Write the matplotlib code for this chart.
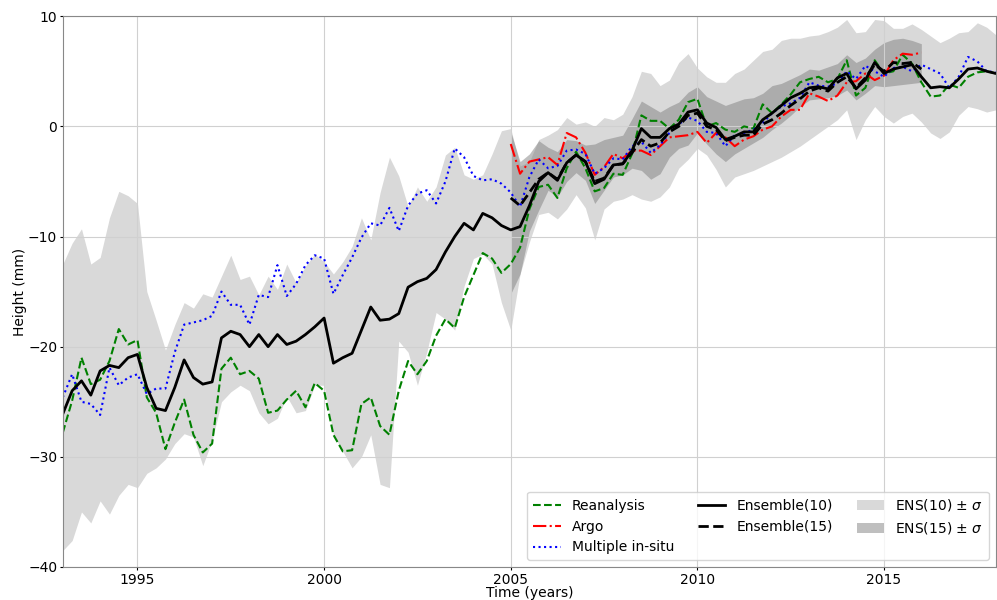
import numpy as np
import matplotlib
matplotlib.use('Agg')
import matplotlib.pyplot as plt

# quarterly time axis
t_all = np.arange(1993.0, 2018.01, 0.25)
t_argo = np.arange(2005.0, 2016.01, 0.25)

ens10 = [-26.1, -24.0, -23.1, -24.4, -22.2, -21.7, -21.9, -21.0, -20.7, -23.7,
         -25.6, -25.8, -23.7, -21.2, -22.8, -23.4, -23.2, -19.2, -18.6, -18.9,
         -20.0, -18.9, -20.0, -18.9, -19.8, -19.5, -18.9, -18.2, -17.4, -21.5,
         -21.0, -20.6, -18.5, -16.4, -17.6, -17.5, -17.0, -14.6, -14.1, -13.8,
         -13.0, -11.4, -10.0, -8.8, -9.4, -7.9, -8.3, -9.0, -9.4, -9.1,
         -7.2, -5.0, -4.2, -4.9, -3.3, -2.6, -3.2, -5.2, -4.8, -3.5,
         -3.4, -2.2, -0.2, -1.0, -1.0, -0.2, 0.2, 1.3, 1.5, 0.3,
         -0.1, -1.2, -0.9, -0.5, -0.5, 0.6, 1.2, 1.9, 2.6, 3.0,
         3.5, 3.6, 3.4, 4.4, 4.8, 3.4, 4.2, 5.8, 4.8, 5.2,
         5.4, 5.6, 4.5, 3.5, 3.6, 3.5, 4.3, 5.2, 5.3, 5.0, 4.8]

reanalysis = [-27.8, -24.9, -21.0, -23.4, -23.0, -21.3, -18.4, -19.8, -19.4, -24.6,
              -26.0, -29.3, -26.9, -24.8, -28.0, -29.6, -28.8, -22.0, -21.0, -22.5,
              -22.2, -22.9, -26.0, -25.8, -24.8, -24.0, -25.5, -23.3, -24.0, -28.0,
              -29.5, -29.4, -25.2, -24.6, -27.2, -28.0, -24.0, -21.3, -22.5, -21.3,
              -19.0, -17.5, -18.3, -15.5, -13.5, -11.5, -12.0, -13.3, -12.5, -11.0,
              -7.5, -5.5, -5.3, -6.5, -3.8, -2.3, -3.8, -5.9, -5.6, -4.3,
              -4.4, -2.5, 1.0, 0.5, 0.5, -0.2, 0.6, 2.2, 2.5, 0.0,
              0.3, -0.3, -0.5, 0.0, -0.2, 2.0, 1.2, 2.0, 2.9, 4.0,
              4.3, 4.5, 4.0, 4.3, 6.0, 2.8, 3.5, 6.0, 4.8, 5.0,
              6.5, 5.7, 4.0, 2.7, 2.8, 3.8, 3.5, 4.5, 4.9, 5.0, 4.8]

insitu = [-24.6, -22.5, -25.0, -25.2, -26.2, -21.9, -23.5, -22.8, -22.5, -24.3,
          -23.8, -23.8, -20.5, -18.0, -17.8, -17.6, -17.2, -15.0, -16.2, -16.2,
          -18.0, -15.3, -15.5, -12.6, -15.4, -14.3, -12.6, -11.7, -12.0, -15.2,
          -13.5, -11.9, -10.1, -8.8, -9.0, -7.4, -9.5, -7.2, -6.1, -5.8,
          -7.0, -5.0, -2.0, -2.8, -4.5, -4.9, -4.8, -5.2, -6.0, -7.3,
          -4.6, -3.0, -3.8, -3.6, -2.2, -2.1, -2.5, -4.3, -3.8, -2.9,
          -3.0, -1.8, -1.4, -2.4, -1.7, -0.6, 0.2, 0.8, 0.5, -0.5,
          -0.6, -1.8, -0.8, -0.6, -0.3, 0.3, 1.2, 1.8, 2.1, 2.6,
          4.0, 3.7, 3.6, 3.9, 5.0, 4.3, 5.5, 5.0, 4.5, 5.3,
          5.4, 5.0, 5.6, 5.2, 4.8, 3.5, 4.5, 6.3, 5.9, 5.0, 4.9]

ens10_hi = [-12.5, -10.6, -9.3, -12.5, -11.9, -8.3, -5.9, -6.3, -7.0, -15.0,
            -17.6, -20.3, -18.0, -16.0, -16.5, -15.2, -15.5, -13.6, -11.7, -13.9,
            -13.6, -15.3, -13.6, -14.8, -12.5, -14.2, -12.7, -11.6, -12.3, -13.4,
            -12.3, -10.9, -8.3, -10.3, -6.0, -2.8, -4.5, -7.3, -5.5, -6.8,
            -5.5, -2.6, -1.9, -4.4, -4.8, -4.4, -2.5, -0.4, -0.2, -3.6,
            -3.2, -1.2, -0.8, -0.3, 0.8, 0.2, 0.4, 0.0, 0.8, 0.6,
            1.1, 2.7, 5.0, 4.8, 3.7, 4.2, 5.8, 6.6, 5.3, 4.5,
            4.0, 4.0, 4.8, 5.2, 6.0, 6.8, 7.0, 7.8, 8.0, 8.0,
            8.2, 8.3, 8.6, 9.0, 9.7, 8.5, 8.6, 9.7, 9.6, 8.9,
            8.9, 9.3, 8.8, 8.2, 7.6, 8.0, 8.5, 8.6, 9.4, 9.0, 8.3]

ens10_lo = [-38.5, -37.6, -35.0, -36.0, -34.0, -35.2, -33.5, -32.5, -32.8, -31.5,
            -31.0, -30.2, -28.8, -27.9, -28.2, -30.8, -28.5, -25.0, -24.1, -23.5,
            -24.0, -26.0, -27.0, -26.5, -24.5, -26.0, -25.8, -23.5, -23.5, -28.0,
            -29.5, -31.0, -30.0, -28.0, -32.5, -32.8, -19.5, -20.5, -23.5, -20.5,
            -16.9, -17.5, -18.5, -14.5, -12.0, -11.6, -12.5, -16.0, -18.5, -13.4,
            -10.5, -8.0, -7.8, -8.4, -7.5, -6.2, -7.4, -10.3, -7.5, -6.8,
            -6.6, -6.2, -6.6, -6.8, -6.4, -5.5, -3.8, -3.0, -2.0, -2.6,
            -3.9, -5.5, -4.6, -4.3, -4.0, -3.6, -3.2, -2.8, -2.3, -1.8,
            -1.2, -0.6, 0.0, 0.6, 1.5, -1.2, 0.6, 1.8, 0.9, 0.3,
            0.9, 1.2, 0.4, -0.6, -1.1, -0.5, 1.0, 1.8, 1.6, 1.3, 1.5]

ens15 = [-6.5, -7.2, -6.0, -4.8, -4.2, -4.8, -3.3, -2.6, -3.2, -5.0,
         -4.7, -3.5, -3.4, -2.4, -1.2, -1.8, -1.5, -0.5, 0.0, 1.0,
         1.2, 0.0, -0.3, -1.3, -1.0, -0.8, -0.8, 0.2, 0.6, 1.2,
         1.9, 2.5, 3.2, 3.5, 3.2, 4.0, 4.5, 3.5, 4.4, 5.6,
         5.0, 5.8, 5.7, 5.8, 5.2]

argo = [-1.6, -4.3, -3.2, -3.0, -2.8, -3.5, -0.6, -1.0, -2.4, -4.4,
        -3.7, -2.5, -2.9, -2.2, -2.2, -2.6, -1.8, -1.0, -0.9, -0.8,
        -0.5, -1.5, -0.6, -1.0, -1.8, -1.2, -0.9, -0.3, 0.0, 0.9,
        1.5, 1.5, 3.0, 2.7, 2.3, 2.8, 4.0, 4.1, 4.8, 4.2,
        4.6, 6.0, 6.6, 6.5, 6.7]

ens15_hi = [-0.5, -3.2, -2.5, -1.3, -1.9, -2.3, -1.2, -1.3, -1.7, -1.6,
            -1.2, -1.0, -0.8, 0.7, 2.3, 1.8, 1.3, 1.8, 2.2, 3.1,
            3.6, 2.7, 2.3, 1.9, 2.2, 2.5, 2.6, 3.0, 3.7, 3.9,
            4.3, 4.7, 5.2, 5.1, 5.4, 5.7, 6.5, 5.8, 6.2, 7.0,
            7.6, 7.9, 8.0, 7.8, 7.5]

ens15_lo = [-15.2, -13.4, -9.5, -7.6, -5.8, -6.4, -5.0, -4.2, -4.9, -7.0,
            -5.8, -4.6, -4.4, -3.8, -4.0, -4.8, -4.3, -2.8, -2.0, -1.7,
            -0.6, -1.6, -2.5, -3.2, -2.5, -2.0, -1.5, -1.0, -0.3, 0.3,
            1.0, 1.8, 2.4, 2.5, 2.6, 2.8, 3.3, 2.4, 3.0, 3.7,
            3.6, 3.7, 3.8, 3.9, 4.0]

fig = plt.figure(figsize=(9.97, 6.0), dpi=100)
ax = fig.add_axes([0.063, 0.055, 0.936, 0.918])

ax.fill_between(t_all, ens10_lo, ens10_hi, color='#d9d9d9', lw=0, label=r'ENS(10) $\pm$ $\sigma$')
ax.fill_between(t_argo, ens15_lo, ens15_hi, color='gray', alpha=0.5, lw=0, label=r'ENS(15) $\pm$ $\sigma$')

ax.plot(t_all, reanalysis, color='green', ls='--', lw=1.5, label='Reanalysis')
ax.plot(t_argo, argo, color='red', ls='-.', lw=1.5, label='Argo')
ax.plot(t_all, insitu, color='blue', ls=':', lw=1.5, label='Multiple in-situ')
ax.plot(t_all, ens10, color='black', ls='-', lw=2, label='Ensemble(10)')
ax.plot(t_argo, ens15, color='black', ls='--', lw=2, label='Ensemble(15)')

ax.set_xlim(1993, 2018)
ax.set_ylim(-40, 10)
ax.set_xticks([1995, 2000, 2005, 2010, 2015])
ax.set_yticks([-40, -30, -20, -10, 0, 10])
ax.tick_params(labelsize=10, length=2.5, pad=1.5)
ax.grid(True, color='#d0d0d0', lw=0.8)
for s in ax.spines.values():
    s.set_color('#888888')

ax.set_xlabel('Time (years)', fontsize=10)
ax.set_ylabel('Height (mm)', fontsize=10)
ax.xaxis.set_label_coords(0.5, -0.035)
ax.yaxis.set_label_coords(-0.038, 0.5)

h, l = ax.get_legend_handles_labels()
order = [2, 3, 4, 5, 6, 0, 1]
ax.legend([h[i] for i in order], [l[i] for i in order], ncol=3, loc='lower right',
          fontsize=10, columnspacing=1.7)

fig.savefig('out.png', dpi=100)
